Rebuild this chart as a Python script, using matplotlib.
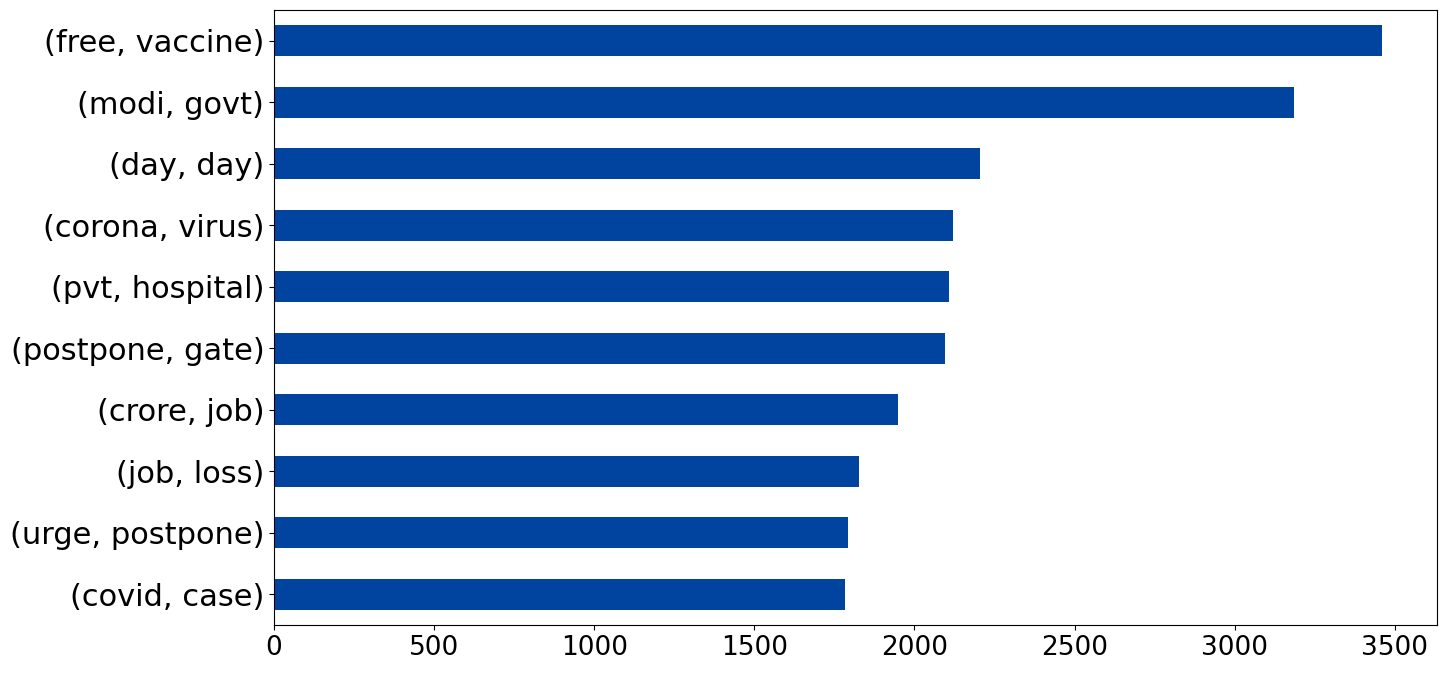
import matplotlib
matplotlib.use("Agg")
import matplotlib.pyplot as plt

# ======================
# DATA
# ======================
bigrams = ["(covid, case)", "(urge, postpone)", "(job, loss)", "(crore, job)",
           "(postpone, gate)", "(pvt, hospital)", "(corona, virus)",
           "(day, day)", "(modi, govt)", "(free, vaccine)"]
counts = [1784, 1794, 1828, 1950, 2094, 2109, 2119, 2206, 3184, 3459]

# ======================
# PLOT
# ======================
fig, ax = plt.subplots(figsize=(14.46, 6.73), dpi=100)
pos = range(len(bigrams))
ax.barh(pos, counts, height=0.5, color="#0044a0")
ax.set_yticks(list(pos))
ax.set_yticklabels(bigrams)
ax.set_ylim(-0.5, len(bigrams) - 0.5)
ax.set_xlim(0, max(counts) * 1.05)
ax.tick_params(axis="x", labelsize=19)
ax.tick_params(axis="y", labelsize=22)
fig.subplots_adjust(left=0.1895, right=0.9938, top=0.985, bottom=0.0713)
fig.savefig("out.png", dpi=100)
